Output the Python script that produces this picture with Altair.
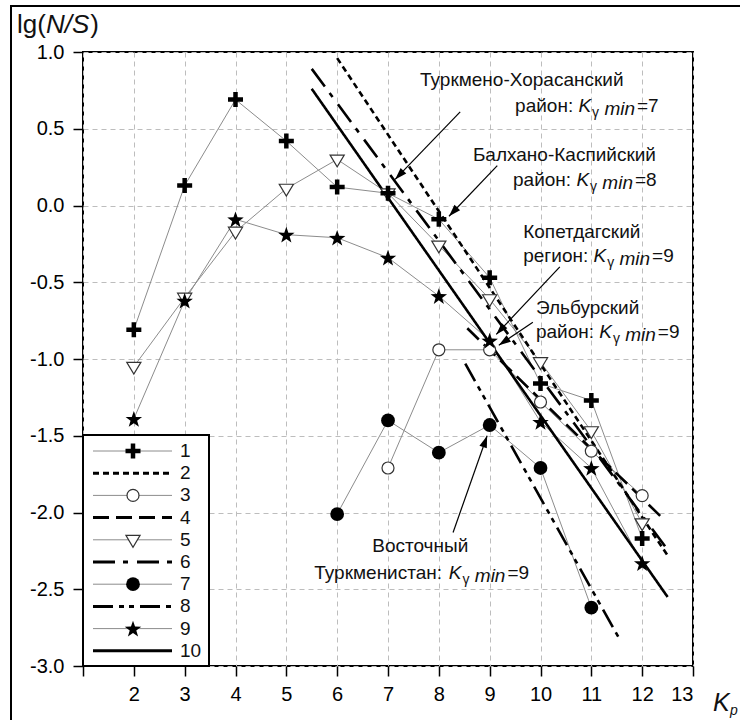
import math
import altair as alt
import pandas as pd

# ---------------- data ----------------
K_all = [2, 3, 4, 5, 6, 7, 8, 9, 10, 11, 12]
lg_1 = [-0.81, 0.13, 0.69, 0.42, 0.12, 0.08, -0.09, -0.47, -1.16, -1.27, -2.17]
K_3 = [7, 8, 9, 10, 11, 12]
lg_3 = [-1.71, -0.94, -0.94, -1.28, -1.60, -1.89]
lg_5 = [-1.05, -0.60, -0.17, 0.11, 0.30, 0.08, -0.26, -0.61, -1.02, -1.47, -2.07]
K_7 = [6, 7, 8, 9, 10, 11]
lg_7 = [-2.01, -1.40, -1.61, -1.43, -1.71, -2.62]
lg_9 = [-1.39, -0.62, -0.09, -0.19, -0.21, -0.34, -0.59, -0.88, -1.41, -1.71, -2.33]

fit_ids = ["2", "4", "6", "8", "10"]
fit_K0 = [6.0, 8.56, 5.5, 8.52, 5.5]
fit_lg0 = [0.96, -0.80, 0.89, -1.03, 0.76]
fit_K1 = [12.5, 12.41, 12.45, 11.53, 12.5]
fit_lg1 = [-2.28, -2.04, -2.22, -2.81, -2.55]

legend_labels = ["1", "2", "3", "4", "5", "6", "7", "8", "9", "10"]

ann_title = ["Туркмено-Хорасанский", "Балхано-Каспийский", "Копетдагский",
             "Эльбурский", "Восточный"]
ann_region = ["район: ", "район: ", "регион: ", "район: ", "Туркменистан: "]
ann_kmin = ["=7", "=8", "=9", "=9", "=9"]
ann_x1 = [7.63, 8.67, 9.66, 9.91, 6.69]
ann_y1 = [0.78, 0.29, -0.21, -0.71, -2.26]
ann_x2 = [9.50, 9.46, 9.66, 9.91, 5.55]
ann_y2 = [0.61, 0.13, -0.37, -0.86, -2.43]
arr_x0 = [8.42, 9.15, 10.38, 9.85, 8.28]
arr_y0 = [0.61, 0.26, -0.40, -0.76, -2.13]
arr_x1 = [7.14, 8.20, 9.13, 9.18, 8.95]
arr_y1 = [0.17, -0.07, -0.84, -0.91, -1.50]

x_ticks = list(range(1, 14))
y_ticks = [-3.0, -2.5, -2.0, -1.5, -1.0, -0.5, 0.0, 0.5, 1.0]

# ---------------- layout / style ----------------
W, H = 610, 614
XD, YD = [1, 13], [-3, 1]
XU = W / (XD[1] - XD[0])
YU = H / (YD[1] - YD[0])
FONT = "Liberation Sans"


def xd(px):  # pixel offset from plot left -> data x
    return XD[0] + px / XU


def yd(py):  # pixel offset from plot top -> data y
    return YD[1] - py / YU


CW = {"а": .556, "б": .573, "в": .531, "г": .365, "д": .583, "е": .556, "ж": .669,
      "з": .458, "и": .559, "й": .559, "к": .438, "л": .583, "м": .688, "н": .552,
      "о": .556, "п": .552, "р": .556, "с": .5, "т": .458, "у": .5, "ф": .823,
      "х": .5, "ц": .573, "ч": .521, "ш": .802, "щ": .823, "ь": .521, "ы": .719,
      "э": .510, "ю": .750, "я": .542, "Т": .611, "К": .583, "Э": .719, "В": .667,
      "Б": .656, "Х": .667, "K": .667, "m": .833, "i": .222, "n": .556, "=": .584,
      ":": .278, " ": .278, "-": .333, "γ": .5, "(": .333, ")": .333, "/": .278,
      "N": .722, "S": .667, "l": .222, "g": .556}


def tw(s, size):
    return sum(CW.get(c, .556) for c in s) * size


PLUS = "M-1,-0.3L-0.3,-0.3L-0.3,-1L0.3,-1L0.3,-0.3L1,-0.3L1,0.3L0.3,0.3L0.3,1L-0.3,1L-0.3,0.3L-1,0.3Z"
STAR = ("M0,-0.905L0.235,-0.229L0.951,-0.214L0.38,0.219L0.588,0.904L0,0.495"
        "L-0.588,0.904L-0.38,0.219L-0.951,-0.214L-0.235,-0.229Z")
TRI = "M-1,-0.62L1,-0.62L0,1.05Z"
ARROW = "M0,0L-0.65,2L0.65,2Z"

STY = {
    "1": dict(shape=PLUS, size=225, filled=True, fill="black", strokeWidth=0),
    "3": dict(shape="circle", size=144, filled=True, fill="white", stroke="#333333", strokeWidth=1.2),
    "5": dict(shape=TRI, size=200, filled=True, fill="white", stroke="#333333", strokeWidth=1.2),
    "7": dict(shape="circle", size=190, filled=True, fill="black", strokeWidth=0),
    "9": dict(shape=STAR, size=300, filled=True, fill="black", strokeWidth=0),
}
DASHES = [[6, 4], [16, 7], [22, 8, 5, 9], [20, 6, 5, 5, 5, 6], [1, 0]]

SCX = alt.Scale(domain=XD, nice=False, zero=False)
SCY = alt.Scale(domain=YD, nice=False, zero=False)
AXX = alt.Axis(values=x_ticks, labelExpr="datum.value == 1 ? '' : datum.label",
               grid=True, gridDash=[5, 4], gridColor="#bdbdbd", gridWidth=1,
               tickSize=10, tickWidth=1.5, tickColor="black", domain=False,
               labelFont=FONT, labelFontSize=20, labelColor="black", labelPadding=8,
               title=None)
AXY = alt.Axis(values=y_ticks,
               labelExpr="(datum.value < 0 ? '-' : '') + format(abs(datum.value), '.1f')",
               grid=True, gridDash=[5, 4], gridColor="#bdbdbd", gridWidth=1,
               tickSize=10, tickWidth=1.5, tickColor="black", domain=False,
               labelFont=FONT, labelFontSize=20, labelColor="black", labelPadding=9,
               title=None)


def X(f, **kw):
    return alt.X(f, type="quantitative", scale=SCX, axis=AXX, **kw)


def Y(f, **kw):
    return alt.Y(f, type="quantitative", scale=SCY, axis=AXY, **kw)


SD = alt.StrokeDash("series:N", scale=alt.Scale(domain=fit_ids, range=DASHES), legend=None)

# ---------------- data frames ----------------
series_pts = {"1": (K_all, lg_1), "3": (K_3, lg_3), "5": (K_all, lg_5),
              "7": (K_7, lg_7), "9": (K_all, lg_9)}
rows = []
for s, (ks, ls) in series_pts.items():
    for k, v in zip(ks, ls):
        rows.append({"series": s, "K": k, "lg": v})
df_pts = pd.DataFrame(rows)

frows = []
for s, a, b, c, d in zip(fit_ids, fit_K0, fit_lg0, fit_K1, fit_lg1):
    frows.append({"series": s, "K": a, "lg": b})
    frows.append({"series": s, "K": c, "lg": d})
df_fit = pd.DataFrame(frows)

layers = []
layers.append(alt.Chart(df_pts).mark_line(color="#8c8c8c", strokeWidth=1)
              .encode(x=X("K"), y=Y("lg"), detail="series:N"))
layers.append(alt.Chart(df_fit).mark_line(color="black", strokeWidth=2.6)
              .encode(x=X("K"), y=Y("lg"), detail="series:N", strokeDash=SD))
for s in ["3", "5", "7", "1", "9"]:
    ks, ls = series_pts[s]
    layers.append(alt.Chart(pd.DataFrame({"K": ks, "lg": ls}))
                  .mark_point(opacity=1, **STY[s]).encode(x=X("K"), y=Y("lg")))

# arrows
angs = []
for a, b, c, d in zip(arr_x0, arr_y0, arr_x1, arr_y1):
    dxp = (c - a) * XU
    dyp = -(d - b) * YU
    angs.append(math.degrees(math.atan2(dxp, -dyp)) % 360)
df_arr = pd.DataFrame({"x0": arr_x0, "y0": arr_y0, "x1": arr_x1, "y1": arr_y1, "ang": angs})
layers.append(alt.Chart(df_arr).mark_rule(color="black", strokeWidth=1.2)
              .encode(x=X("x0"), y=Y("y0"), x2="x1", y2="y1"))
layers.append(alt.Chart(df_arr).mark_point(shape=ARROW, size=144, filled=True, fill="black",
                                           strokeWidth=0, opacity=1)
              .encode(x=X("x1"), y=Y("y1"), angle=alt.Angle("ang:Q", scale=None)))

# annotation text (segments: region, italic K, subscript gamma, italic min, =k)
FS = 19
norm, ital, gam, mins = [], [], [], []
for t, reg, km, a, b, c, d in zip(ann_title, ann_region, ann_kmin, ann_x1, ann_y1, ann_x2, ann_y2):
    norm.append({"x": a, "y": b, "t": t})
    norm.append({"x": c, "y": d, "t": reg})
    pk = tw(reg, FS)
    pg = pk + tw("K", FS) + 1
    pm = pg + tw("γ", 14) + tw(" ", FS)
    pe = pm + tw("min", FS) + 2
    ital.append({"x": c + pk / XU, "y": d, "t": "K"})
    gam.append({"x": c + pg / XU, "y": d, "t": "γ"})
    mins.append({"x": c + pm / XU, "y": d, "t": "min"})
    norm.append({"x": c + pe / XU, "y": d, "t": km})


def txt(df, **kw):
    base = dict(align="left", baseline="alphabetic", font=FONT, color="#111111")
    base.update(kw)
    return alt.Chart(pd.DataFrame(df)).mark_text(**base).encode(x=X("x"), y=Y("y"), text="t:N")


layers.append(txt(norm, fontSize=FS))
layers.append(txt(ital, fontSize=FS, fontStyle="italic"))
layers.append(txt(gam, fontSize=14, dy=5))
layers.append(txt(mins, fontSize=FS, fontStyle="italic", dy=3))

# legend
LEG_ROW0, LEG_STEP = 399, 22.2
layers.append(alt.Chart(pd.DataFrame({"a": [0]})).mark_rect(fill="white", stroke="black", strokeWidth=2)
              .encode(x=alt.value(0), x2=alt.value(126), y=alt.value(383), y2=alt.value(H)))
leg_rows = [{"series": lab, "ya": yd(LEG_ROW0 + i * LEG_STEP), "xa": xd(10), "xb": xd(89),
             "xm": xd(50), "xl": xd(97)} for i, lab in enumerate(legend_labels)]
df_leg = pd.DataFrame(leg_rows)
df_leg_pts = df_leg[df_leg.series.isin(list(STY.keys()))]
df_leg_fit = df_leg[df_leg.series.isin(fit_ids)]
layers.append(alt.Chart(df_leg_pts).mark_rule(color="#8c8c8c", strokeWidth=1)
              .encode(x=X("xa"), x2="xb", y=Y("ya")))
layers.append(alt.Chart(df_leg_fit).mark_rule(color="black", strokeWidth=3)
              .encode(x=X("xa"), x2="xb", y=Y("ya"), strokeDash=SD))
for s in STY:
    layers.append(alt.Chart(df_leg_pts[df_leg_pts.series == s])
                  .mark_point(opacity=1, **STY[s]).encode(x=X("xm"), y=Y("ya")))
layers.append(alt.Chart(df_leg).mark_text(align="left", baseline="middle", font=FONT, fontSize=19,
                                          color="#111111")
              .encode(x=X("xl"), y=Y("ya"), text="series:N"))

# axis titles
TS = 26
ytitle = [{"x": xd(-66), "y": yd(-19), "t": "lg("},
          {"x": xd(-66 + tw("lg(", TS)), "y": yd(-19), "t": "N/S", "i": 1},
          {"x": xd(-66 + tw("lg(", TS) + tw("N/S", TS) + 1), "y": yd(-19), "t": ")"}]
layers.append(txt([r for r in ytitle if "i" not in r], fontSize=TS))
layers.append(txt([r for r in ytitle if "i" in r], fontSize=TS, fontStyle="italic"))
layers.append(txt([{"x": xd(630), "y": yd(659), "t": "K"}], fontSize=25, fontStyle="italic"))
layers.append(txt([{"x": xd(647), "y": yd(663), "t": "р"}], fontSize=14, fontStyle="italic"))

# outer frame of the figure
layers.append(alt.Chart(pd.DataFrame({"a": [0]})).mark_rect(fill=None, stroke="black", strokeWidth=2)
              .encode(x=alt.value(-72), x2=alt.value(720), y=alt.value(-46), y2=alt.value(720)))

chart = (alt.layer(*layers)
         .properties(width=W, height=H, autosize=alt.AutoSizeParams(type="none"),
                     padding={"left": 83, "top": 52, "right": 47, "bottom": 54},
                     background="white")
         .configure_view(stroke="black", strokeWidth=2))

chart.save("out.html", embed_options={"renderer": "svg", "actions": False})
